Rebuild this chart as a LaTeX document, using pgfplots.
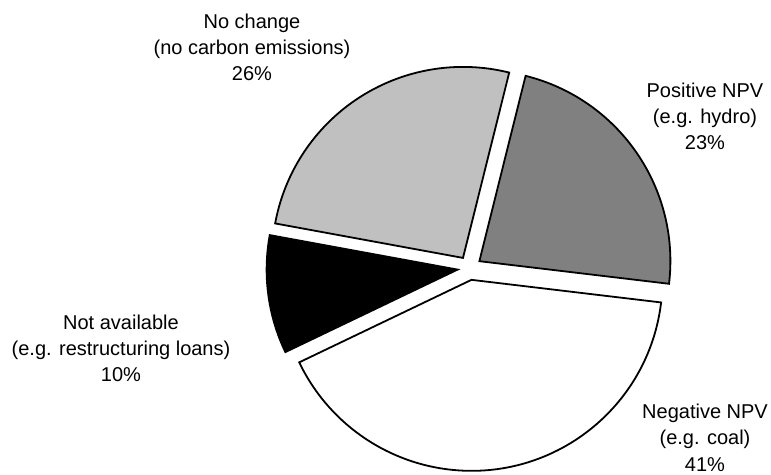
\documentclass[border=0pt]{standalone}
\usepackage{pgfplots}
\pgfplotsset{compat=1.18}
\usepackage{pgfplotstable}
\usepackage{fontspec}
\setmainfont{Liberation Sans}

\definecolor{pieDark}{HTML}{808080}
\definecolor{pieLight}{HTML}{C0C0C0}

% shares in percent, drawn clockwise from the start angle
\pgfplotstableread{
share colour
23 pieDark
41 white
10 black
26 pieLight
}\piedata

\begin{document}
\begin{tikzpicture}[
  lab/.style={align=center, anchor=base, inner sep=0pt,
    font=\fontsize{20bp}{26.3bp}\selectfont},
]
\path[use as bounding box] (0,0) rectangle (771bp,475bp);
% pie geometry (axis units = bp)
\def\cx{469.5}\def\cy{207}\def\R{191}\def\ex{12}
\pgfmathsetmacro\acc{76}
\def\slices{}
\pgfplotstablegetrowsof{\piedata}
\pgfmathtruncatemacro\lastrow{\pgfplotsretval-1}
\pgfplotsforeachungrouped \i in {0,...,\lastrow}{%
  \pgfplotstablegetelem{\i}{share}\of\piedata \let\sh\pgfplotsretval
  \pgfplotstablegetelem{\i}{colour}\of\piedata \let\fc\pgfplotsretval
  \pgfmathsetmacro\aS{\acc}%
  \pgfmathsetmacro\aE{\acc-3.6*\sh}%
  \pgfmathsetmacro\aM{\acc-1.8*\sh}%
  \pgfmathsetmacro\ox{\cx+\ex*cos(\aM)}%
  \pgfmathsetmacro\oy{\cy+\ex*sin(\aM)}%
  \edef\slices{\unexpanded\expandafter{\slices}%
    \noexpand\filldraw[fill=\fc, draw=black, line width=1.8bp, line join=miter]
      (axis cs:\ox,\oy) -- ++(\aS:\R bp)
      arc[start angle=\aS, end angle=\aE, radius=\R bp] -- cycle;}%
  \let\acc\aE
}
\begin{axis}[
  at={(0,0)}, anchor=south west,
  scale only axis, width=771bp, height=475bp,
  xmin=0, xmax=771, ymin=0, ymax=475,
  hide axis, clip=false,
]
\slices
% label anchors sit on the baseline of the last line
\node[lab] at (axis cs:252,394) {No change\\(no carbon emissions)\\26\%};
\node[lab] at (axis cs:705,325) {Positive NPV\\(e.g. hydro)\\23\%};
\node[lab] at (axis cs:121,93)  {Not available\\(e.g. restructuring loans)\\10\%};
\node[lab] at (axis cs:705,4)   {Negative NPV\\(e.g. coal)\\41\%};
\end{axis}
\end{tikzpicture}
\end{document}
